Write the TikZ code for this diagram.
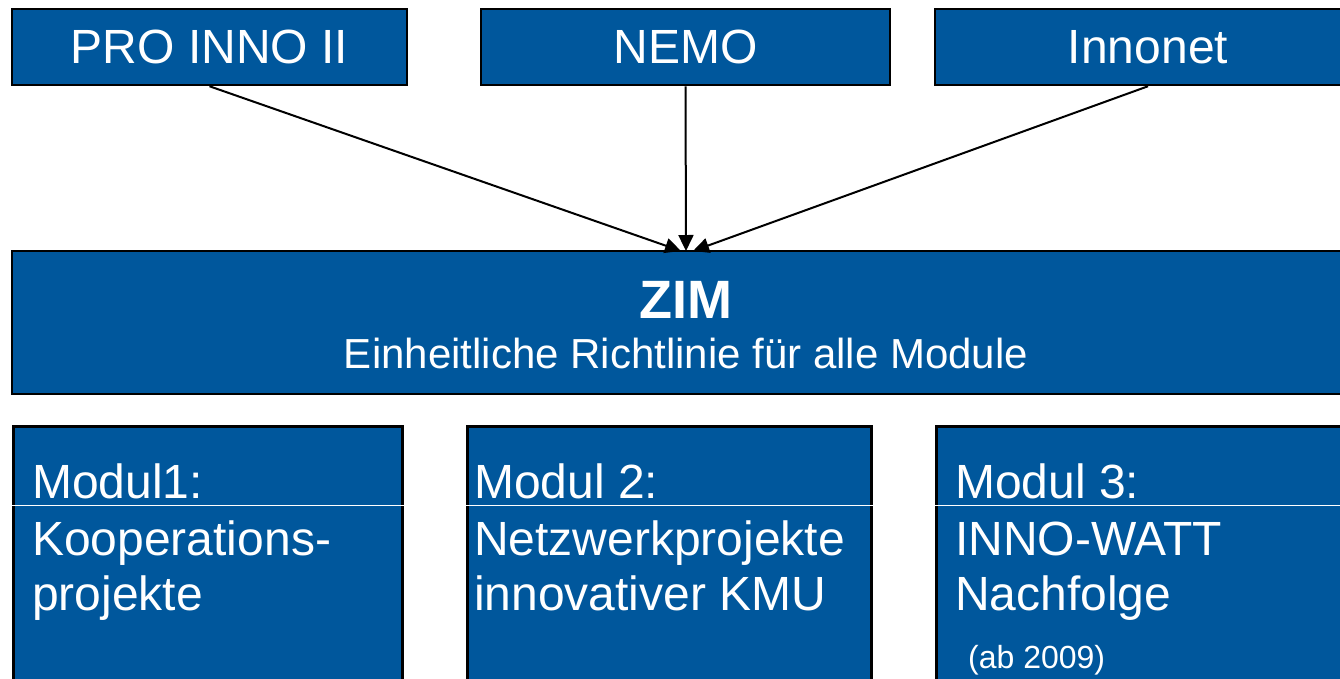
\documentclass[tikz,border=0pt]{standalone}
\usepackage{fontspec}
\setmainfont{Liberation Sans}
\usetikzlibrary{arrows.meta}
\definecolor{zimblue}{RGB}{0,87,156}

\begin{document}
\begin{tikzpicture}[x=1pt, y=-1pt, % 像素坐标, y 向下
		box/.style={draw=black, line width=2.5pt, fill=zimblue, inner sep=0pt},
		boxtext/.style={text=white, inner sep=0pt, font=\fontsize{48}{48}\selectfont},
		pfeil/.style={-{Triangle[length=16pt, width=15pt]}, line width=2pt}]
		\clip (0, 0) rectangle (1340, 678);
		% 上面的三个方框
		\node[box, boxtext, minimum width=395pt, minimum height=76pt]
			(pro) at (209.5, 47) {PRO INNO II};
		\node[box, boxtext, minimum width=409pt, minimum height=76pt]
			(nemo) at (685.5, 47) {NEMO};
		\node[box, boxtext, minimum width=426pt, minimum height=76pt]
			(innonet) at (1148, 47) {Innonet};
		% 中间的 ZIM
		\node[box, minimum width=1348pt, minimum height=143pt]
			(zim) at (686, 322.5) {};
		\node[boxtext, anchor=base, font=\fontsize{54}{54}\selectfont\bfseries]
			(zimtitel) at (686, 318) {ZIM};
		\node[boxtext, anchor=base, font=\fontsize{42}{42}\selectfont]
			(zimtext) at (686, 368) {Einheitliche Richtlinie für alle Module};
		% 箭头
		\coordinate (zielL) at (681, 251);
		\coordinate (zielM) at (686, 251);
		\coordinate (zielR) at (693, 251);
		\draw[pfeil] (pro.south) -- (zielL);
		\draw[pfeil] (nemo.south) -- (zielM);
		\draw[pfeil] (innonet.south) -- (zielR);
		% 下面的三个模块
		\node[box, anchor=north west, minimum width=389pt, minimum height=280pt]
			(m1) at (12, 425) {};
		\node[box, anchor=north west, minimum width=404pt, minimum height=280pt]
			(m2) at (466, 425) {};
		\node[box, anchor=north west, minimum width=425pt, minimum height=280pt]
			(m3) at (935, 425) {};
		\foreach \m in {m1, m2, m3} {
			\draw[white, line width=1pt] (\m.west |- 0, 505) -- (\m.east |- 0, 505);
		}
		\node[boxtext, anchor=base west] (m1a) at (32, 498) {Modul1:};
		\node[boxtext, anchor=base west] (m1b) at (32, 555) {Kooperations-};
		\node[boxtext, anchor=base west] (m1c) at (32, 610) {projekte};
		\node[boxtext, anchor=base west] (m2a) at (474, 498) {Modul 2:};
		\node[boxtext, anchor=base west] (m2b) at (474, 555) {Netzwerkprojekte};
		\node[boxtext, anchor=base west] (m2c) at (474, 610) {innovativer KMU};
		\node[boxtext, anchor=base west] (m3a) at (955, 498) {Modul 3:};
		\node[boxtext, anchor=base west] (m3b) at (955, 555) {INNO-WATT};
		\node[boxtext, anchor=base west] (m3c) at (955, 610) {Nachfolge};
		\node[boxtext, anchor=base west, font=\fontsize{32}{32}\selectfont]
			(m3d) at (968, 668) {(ab 2009)};
	\end{tikzpicture}
\end{document}
